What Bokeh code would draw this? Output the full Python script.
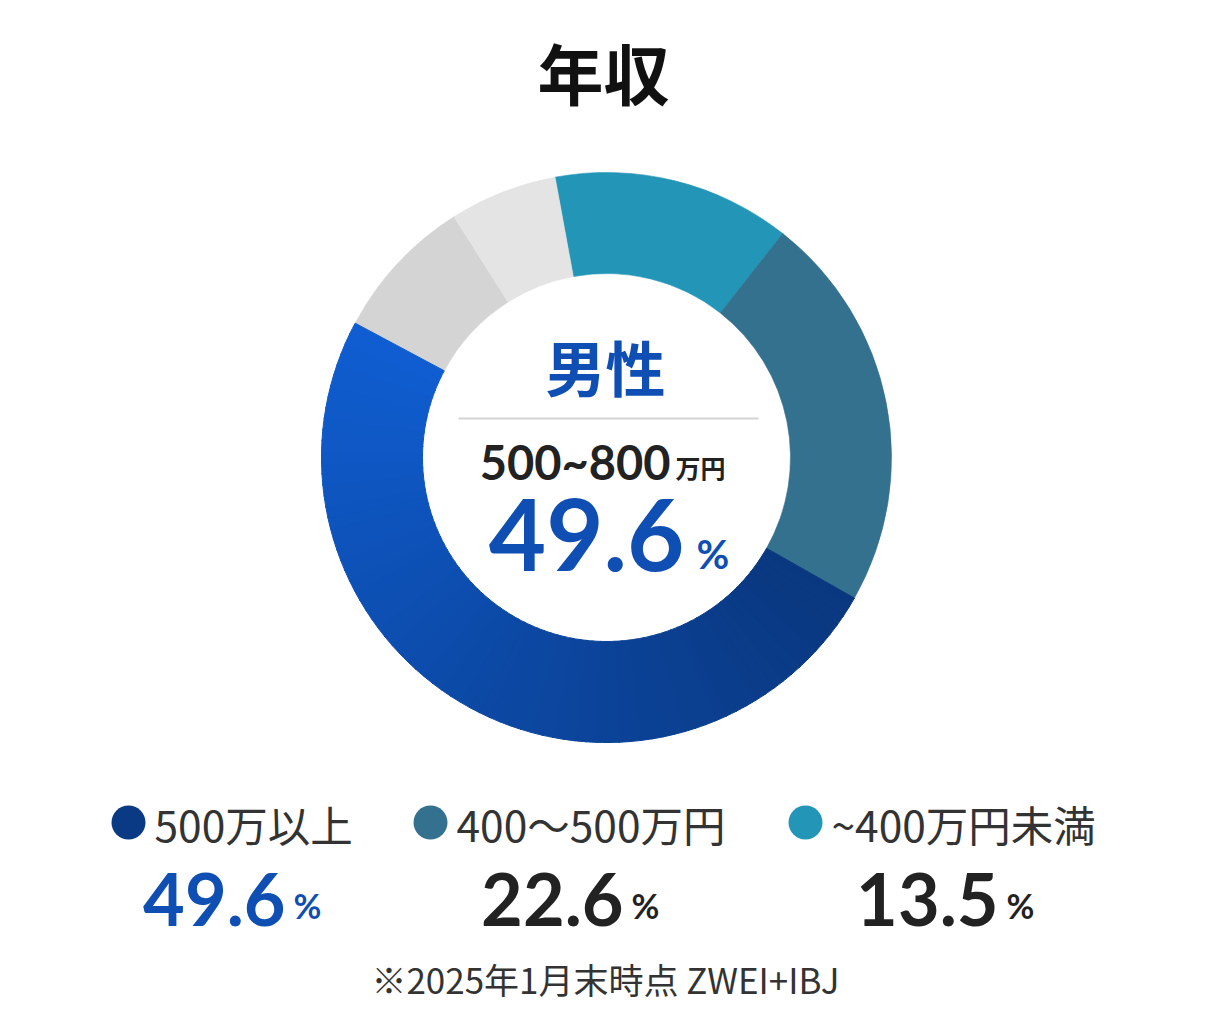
import numpy as np
from bokeh.plotting import figure
from bokeh.models import ColumnDataSource, Range1d
from bokeh.core.properties import value
from bokeh.embed import file_html
from bokeh.resources import INLINE

# ring segments, clockwise from the top
seg_names = ["~400万円未満", "400〜500万円", "500万以上", "その他1", "その他2"]
seg_values = [13.5, 22.6, 49.6, 8.2, 6.1]
seg_colors = ["#2396B8", "#33718F", None, "#D4D4D4", "#E4E4E4"]

# legend row
legend_labels = ["500万以上", "400〜500万円", "~400万円未満"]
legend_values = [49.6, 22.6, 13.5]
legend_colors = ["#0A3A84", "#33718F", "#2396B8"]
legend_value_colors = ["#0F4FB4", "#222222", "#222222"]

title = "年収"
center_label = "男性"
center_range = "500~800"
center_unit = "万円"
center_value = 49.6
note = "※2025年1月末時点 ZWEI+IBJ"

W, H = 1210, 1015
CJK = value("Noto Sans CJK JP")
NUM = value("Lato")
BLUE = "#0F4FB4"

p = figure(width=W, height=H, output_backend="svg", toolbar_location=None,
           x_range=Range1d(0, W), y_range=Range1d(-H, 0),
           min_border=0)
p.axis.visible = False
p.grid.visible = False
p.outline_line_color = None
p.background_fill_color = "white"

cx, cy = 606, -457
r_in, r_out = 184, 285
start = 100.4  # degrees, standard orientation

# ring
rows = dict(s=[], e=[], c=[])
grad = dict(s=[], e=[], c=[])
cum = 0.0
dark = np.array([0x0A, 0x38, 0x80])
light = np.array([0x10, 0x5E, 0xD2])
for name, v, col in zip(seg_names, seg_values, seg_colors):
    a0 = start - cum * 3.6
    a1 = a0 - v * 3.6
    if col is None:
        n = 80
        edges = np.linspace(a0, a1, n + 1)
        for k in range(n):
            t = (k + 0.5) / n
            rgb = (dark + (light - dark) * t ** 1.1).astype(int)
            grad["s"].append(float(np.radians(edges[k] + 0.3 if k else edges[k])))
            grad["e"].append(float(np.radians(edges[k + 1])))
            grad["c"].append("#%02x%02x%02x" % tuple(rgb))
    else:
        rows["s"].append(float(np.radians(a0)))
        rows["e"].append(float(np.radians(a1)))
        rows["c"].append(col)
    cum += v

p.annular_wedge(x=cx, y=cy, inner_radius=r_in, outer_radius=r_out,
                start_angle="s", end_angle="e", direction="clock",
                fill_color="c", line_color="c", line_width=0.6,
                source=ColumnDataSource(rows))
p.annular_wedge(x=cx, y=cy, inner_radius=r_in, outer_radius=r_out,
                start_angle="s", end_angle="e", direction="clock",
                fill_color="c", line_color="c", line_width=1,
                source=ColumnDataSource(grad))


def label(x, y, txt, font, size, color, align="left", bold=True):
    src = ColumnDataSource(dict(x=x, y=y, t=txt, c=color))
    p.text(x="x", y="y", text="t", text_color="c", source=src, text_font=font,
           text_font_style="bold" if bold else "normal", text_font_size=size,
           text_align=align, text_baseline="middle")


# title
label([603], [-70], [title], CJK, "66px", ["#111111"], "center")

# legend
dot_x = [128, 430, 805]
col_x = [231, 569, 944]
p.scatter(x=dot_x, y=[-822] * 3, size=34, marker="circle",
          fill_color=legend_colors, line_color=None)
label([x + 26 for x in dot_x], [-823] * 3, legend_labels, CJK, "42.5px",
      ["#333333"] * 3, "left", bold=False)
label([c + 54 for c in col_x], [-899] * 3, ["%.1f" % v for v in legend_values],
      NUM, "72px", legend_value_colors, "right")
label([c + 62 for c in col_x], [-905] * 3, ["%"] * 3, NUM, "34px",
      legend_value_colors, "left")

# footnote
label([605], [-978], [note], CJK, "35px", ["#333333"], "center", bold=False)

# centre of the ring
label([605], [-365], [center_label], CJK, "60px", [BLUE], "center")
p.segment(x0=[458], y0=[-418], x1=[758], y1=[-418], line_color="#D3D3D3", line_width=2)
label([670], [-461], [center_range], NUM, "47px", ["#222222"], "right")
label([675], [-466], [center_unit], CJK, "25px", ["#222222"], "left")
label([684], [-534], ["%.1f" % center_value], NUM, "99px", [BLUE], "right")
label([696], [-553], ["%"], NUM, "40px", [BLUE], "left")

open("out.html", "w").write(file_html(p, INLINE))
